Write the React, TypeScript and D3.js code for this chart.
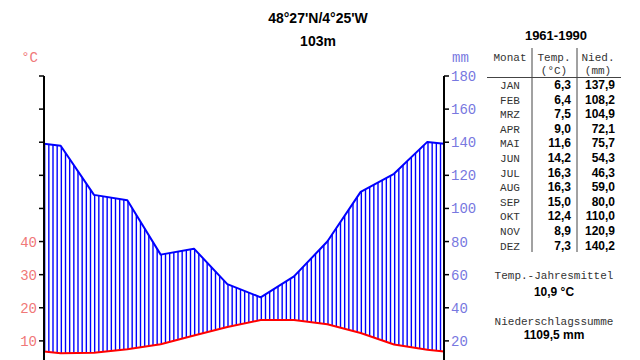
import React from "react";
import * as d3 from "d3";

const months = ["JAN", "FEB", "MRZ", "APR", "MAI", "JUN", "JUL", "AUG", "SEP", "OKT", "NOV", "DEZ"];
const temps = [6.3, 6.4, 7.5, 9.0, 11.6, 14.2, 16.3, 16.3, 15.0, 12.4, 8.9, 7.3];
const precs = [137.9, 108.2, 104.9, 72.1, 75.7, 54.3, 46.3, 59.0, 80.0, 110.0, 120.9, 140.2];
const tempLabels = ["6,3", "6,4", "7,5", "9,0", "11,6", "14,2", "16,3", "16,3", "15,0", "12,4", "8,9", "7,3"];
const precLabels = ["137,9", "108,2", "104,9", "72,1", "75,7", "54,3", "46,3", "59,0", "80,0", "110,0", "120,9", "140,2"];
const tempTicks = [10, 20, 30, 40, 50, 60, 70, 80, 90];
const tempTickLabels = [10, 20, 30, 40];
const precTicks = [20, 40, 60, 80, 100, 120, 140, 160, 180];
const title = "48°27'N/4°25'W";
const elevation = "103m";
const period = "1961-1990";
const meanTemp = "10,9 °C";
const totalPrec = "1109,5 mm";

const mono = "'Liberation Mono', 'Courier New', monospace";
const sans = "'Liberation Sans', Arial, sans-serif";

export default function App() {
  const x = d3.scaleLinear().domain([0, 12]).range([44, 444]);
  const yP = d3.scaleLinear().domain([0, 180]).range([374, 76]);
  const yT = d3.scaleLinear().domain([0, 90]).range([374, 76]);

  const edgeT = (temps[0] + temps[11]) / 2;
  const edgeP = (precs[0] + precs[11]) / 2;
  const tPts: [number, number][] = [[0, edgeT], ...temps.map((t, i) => [i + 0.5, t] as [number, number]), [12, edgeT]];
  const pPts: [number, number][] = [[0, edgeP], ...precs.map((p, i) => [i + 0.5, p] as [number, number]), [12, edgeP]];

  const tLine = d3.line<[number, number]>().x(d => x(d[0])).y(d => yT(d[1]));
  const pLine = d3.line<[number, number]>().x(d => x(d[0])).y(d => yP(d[1]));

  const tInterp = d3.scaleLinear().domain(tPts.map(d => d[0])).range(tPts.map(d => d[1]));
  const pInterp = d3.scaleLinear().domain(pPts.map(d => d[0])).range(pPts.map(d => d[1]));

  const hatch: number[] = d3.range(0.02, 12, 0.125);

  const rowY = (i: number) => 89 + i * 14.6;

  return (
    <div style={{ position: "fixed", left: 0, top: 0 }}>
      <svg width={640} height={360} style={{ display: "block", background: "#fff" }}>
        {hatch.map((m, i) => {
          const yt = yT(tInterp(m));
          const yp = yP(pInterp(m));
          return <line key={i} x1={x(m)} x2={x(m)} y1={yt} y2={yp} stroke="#0000ff" strokeWidth={1.4} />;
        })}
        <path d={pLine(pPts) || ""} fill="none" stroke="#0000ff" strokeWidth={2} strokeLinejoin="round" />
        <path d={tLine(tPts) || ""} fill="none" stroke="#ff0000" strokeWidth={2} strokeLinejoin="round" />

        <line x1={x(0)} x2={x(0)} y1={yT(90)} y2={380} stroke="#000" strokeWidth={2} />
        {tempTicks.map(t => (
          <line key={t} x1={x(0) - 5} x2={x(0)} y1={yT(t)} y2={yT(t)} stroke="#000" strokeWidth={1.5} />
        ))}
        {tempTickLabels.map(t => (
          <text key={t} x={x(0) - 7} y={yT(t) + 5} textAnchor="end" fill="#f07878" fontFamily={mono} fontSize={14}>{t}</text>
        ))}
        <text x={38} y={62} textAnchor="end" fill="#f07878" fontFamily={mono} fontSize={14}>°C</text>

        <line x1={x(12)} x2={x(12)} y1={yP(180)} y2={380} stroke="#000" strokeWidth={2} />
        {precTicks.map(p => (
          <g key={p}>
            <line x1={x(12)} x2={x(12) + 5} y1={yP(p)} y2={yP(p)} stroke="#000" strokeWidth={1.5} />
            <text x={x(12) + 7} y={yP(p) + 5} textAnchor="start" fill="#7878e0" fontFamily={mono} fontSize={14}>{p}</text>
          </g>
        ))}
        <text x={452} y={62} textAnchor="start" fill="#7878e0" fontFamily={mono} fontSize={14}>mm</text>

        <text x={318} y={23} textAnchor="middle" fontFamily={sans} fontWeight="bold" fontSize={14}>{title}</text>
        <text x={318} y={46} textAnchor="middle" fontFamily={sans} fontWeight="bold" fontSize={14}>{elevation}</text>

        <text x={556} y={40} textAnchor="middle" fontFamily={sans} fontWeight="bold" fontSize={13}>{period}</text>
        <line x1={532} x2={532} y1={48} y2={252} stroke="#444" strokeWidth={1} />
        <line x1={577} x2={577} y1={48} y2={252} stroke="#444" strokeWidth={1} />
        <line x1={487} x2={621} y1={77.5} y2={77.5} stroke="#444" strokeWidth={1} />
        <text x={510} y={61} textAnchor="middle" fontFamily={mono} fontSize={11} fill="#333">Monat</text>
        <text x={554} y={61} textAnchor="middle" fontFamily={mono} fontSize={11} fill="#333">Temp.</text>
        <text x={598} y={61} textAnchor="middle" fontFamily={mono} fontSize={11} fill="#333">Nied.</text>
        <text x={554} y={74} textAnchor="middle" fontFamily={mono} fontSize={11} fill="#333">(°C)</text>
        <text x={598} y={74} textAnchor="middle" fontFamily={mono} fontSize={11} fill="#333">(mm)</text>
        {months.map((m, i) => (
          <g key={m}>
            <text x={510} y={rowY(i)} textAnchor="middle" fontFamily={mono} fontSize={11} fill="#333">{m}</text>
            <text x={571} y={rowY(i)} textAnchor="end" fontFamily={sans} fontWeight="bold" fontSize={12}>{tempLabels[i]}</text>
            <text x={615} y={rowY(i)} textAnchor="end" fontFamily={sans} fontWeight="bold" fontSize={12}>{precLabels[i]}</text>
          </g>
        ))}
        <text x={554} y={279} textAnchor="middle" fontFamily={mono} fontSize={11} fill="#333">Temp.-Jahresmittel</text>
        <text x={554} y={296} textAnchor="middle" fontFamily={sans} fontWeight="bold" fontSize={12}>{meanTemp}</text>
        <text x={554} y={325} textAnchor="middle" fontFamily={mono} fontSize={11} fill="#333">Niederschlagssumme</text>
        <text x={554} y={339} textAnchor="middle" fontFamily={sans} fontWeight="bold" fontSize={12}>{totalPrec}</text>
      </svg>
    </div>
  );
}
